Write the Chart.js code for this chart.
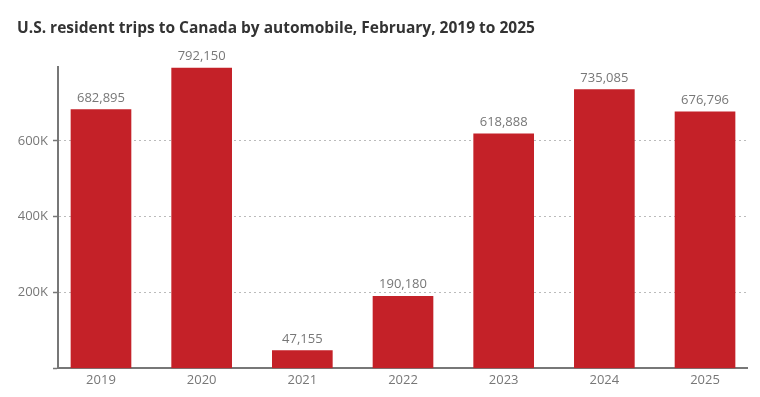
<!DOCTYPE html>
<html>
<head>
<meta charset="utf-8">
<script src="https://cdn.jsdelivr.net/npm/chart.js@4/dist/chart.umd.min.js"></script>
<style>
html,body{margin:0;padding:0;background:#fff;}
#wrap{width:760px;height:397px;position:relative;}
</style>
</head>
<body>
<div id="wrap"><canvas id="c" width="760" height="397"></canvas></div>
<script>
const categories = ['2019', '2020', '2021', '2022', '2023', '2024', '2025'];
const trips = [682895, 792150, 47155, 190180, 618888, 735085, 676796];
const yTicks = [0, 200000, 400000, 600000];
const yTickLabels = ['', '200K', '400K', '600K'];

const FONT = '"Open Sans", "Noto Sans", sans-serif';

const valueLabels = {
  id: 'valueLabels',
  afterDatasetsDraw(chart) {
    const ctx = chart.ctx;
    const meta = chart.getDatasetMeta(0);
    ctx.save();
    ctx.font = '13px ' + FONT;
    ctx.fillStyle = '#777777';
    ctx.textAlign = 'center';
    ctx.textBaseline = 'bottom';
    meta.data.forEach((bar, i) => {
      ctx.fillText(trips[i].toLocaleString('en-US'), bar.x, bar.y - 5);
    });
    ctx.restore();
  }
};

new Chart(document.getElementById('c'), {
  type: 'bar',
  data: {
    datasets: [{
      data: trips.map((v, i) => ({x: i, y: v})),
      backgroundColor: '#C42128',
      barThickness: 60
    }]
  },
  options: {
    responsive: false,
    animation: false,
    layout: {padding: {left: 17, right: 13, top: 0, bottom: 5}},
    plugins: {
      legend: {display: false},
      tooltip: {enabled: false},
      title: {
        display: true,
        text: 'U.S. resident trips to Canada by automobile, February, 2019 to 2025',
        align: 'start',
        color: '#333333',
        font: {family: FONT, size: 15.5, weight: 'bold', lineHeight: 1.2},
        padding: {top: 19, bottom: 29}
      }
    },
    scales: {
      x: {
        type: 'linear',
        offset: false,
        min: -0.427,
        max: 6.417,
        afterBuildTicks: (axis) => { axis.ticks = categories.map((_, i) => ({value: i})); },
        ticks: {
          autoSkip: false,
          maxRotation: 0,
          color: '#777777',
          font: {family: FONT, size: 13},
          padding: 4,
          callback: (v) => categories[v]
        },
        grid: {display: false, drawTicks: false, offset: false},
        border: {display: true, color: '#777777', width: 2}
      },
      y: {
        min: 0,
        max: 796000,
        afterBuildTicks: (axis) => { axis.ticks = yTicks.map(v => ({value: v})); },
        afterFit: (axis) => { axis.width = 41; },
        ticks: {
          color: '#777777',
          font: {family: FONT, size: 13},
          padding: 5,
          callback: (v) => yTickLabels[yTicks.indexOf(v)]
        },
        grid: {
          color: (c) => (c.tick && c.tick.value === 0) ? 'rgba(0,0,0,0)' : '#bbbbbb',
          lineWidth: 1,
          tickColor: '#777777',
          tickWidth: 1.5,
          tickLength: 5
        },
        border: {display: true, color: '#777777', width: 2, dash: [2, 3]}
      }
    }
  },
  plugins: [valueLabels]
});
</script>
</body>
</html>
